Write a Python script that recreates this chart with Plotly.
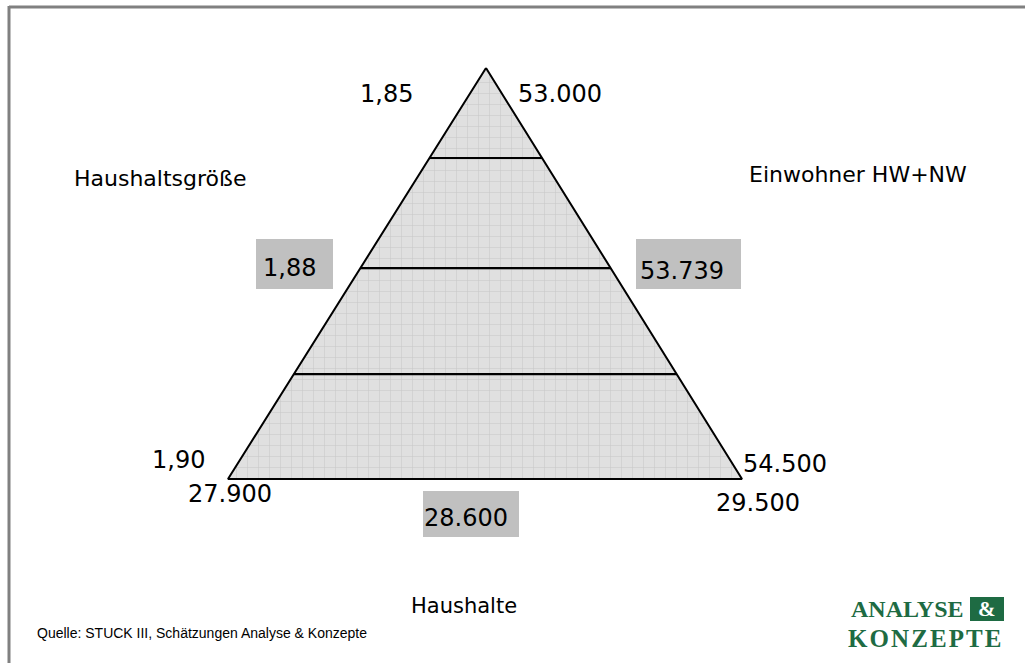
import plotly.graph_objects as go

# --- data ---
left_labels = ["1,85", "1,88", "1,90"]          # Haushaltsgröße
right_labels = ["53.000", "53.739", "54.500"]   # Einwohner HW+NW
bottom_labels = ["27.900", "28.600", "29.500"]  # Haushalte
axis_titles = ["Haushaltsgröße", "Einwohner HW+NW", "Haushalte"]
divider_fracs = [0.219, 0.487, 0.745]           # relative height of divider lines
source = "Quelle: STUCK III, Schätzungen Analyse & Konzepte"
logo_top = "ANALYSE"
logo_amp = "&"
logo_bottom = "KONZEPTE"

# --- geometry (pixel space) ---
W, H = 1025, 663
apex = (486, 68)
base_l = (228, 479)
base_r = (742, 479)

fig = go.Figure()

fig.add_trace(go.Scatter(
    x=[apex[0], base_r[0], base_l[0], apex[0]],
    y=[apex[1], base_r[1], base_l[1], apex[1]],
    mode="lines", fill="toself",
    fillcolor="#e0e0e0",
    fillpattern=dict(shape="+", fgcolor="#b0b0b0", bgcolor="#e0e0e0", size=11, solidity=0.1),
    line=dict(color="black", width=2), hoverinfo="skip", showlegend=False))

hgt = base_l[1] - apex[1]
for f in divider_fracs:
    y = apex[1] + f * hgt
    xl = apex[0] + (base_l[0] - apex[0]) * f
    xr = apex[0] + (base_r[0] - apex[0]) * f
    fig.add_trace(go.Scatter(x=[xl, xr], y=[y, y], mode="lines",
                             line=dict(color="black", width=2.2),
                             hoverinfo="skip", showlegend=False))

FONT = "DejaVu Sans"
GREEN = "#1e6b43"
shapes = [
    dict(type="line", x0=9, x1=W + 5, y0=7, y1=7, line=dict(color="#808080", width=3)),
    dict(type="line", x0=9, x1=9, y0=6, y1=H + 5, line=dict(color="#808080", width=3)),
    dict(type="rect", x0=256, x1=333, y0=239, y1=289, fillcolor="#c0c0c0", line=dict(width=0), layer="below"),
    dict(type="rect", x0=636, x1=741, y0=239, y1=289, fillcolor="#c0c0c0", line=dict(width=0), layer="below"),
    dict(type="rect", x0=423, x1=519, y0=491, y1=537, fillcolor="#c0c0c0", line=dict(width=0), layer="below"),
    dict(type="rect", x0=970, x1=1004, y0=597, y1=621, fillcolor=GREEN, line=dict(width=0)),
]

def ann(x, y, t, size=24, xanchor="center", color="black", family=FONT, bold=False):
    txt = f"<b>{t}</b>" if bold else t
    return dict(x=x, y=y, xref="x", yref="y", text=txt, showarrow=False,
                xanchor=xanchor, yanchor="middle",
                font=dict(size=size, color=color, family=family))

hair = "\u200a"
annotations = [
    ann(386, 94, left_labels[0]),
    ann(516, 94, right_labels[0], xanchor="left"),
    ann(261, 268, left_labels[1], xanchor="left"),
    ann(638, 271, right_labels[1], xanchor="left"),
    ann(207, 460, left_labels[2], xanchor="right"),
    ann(741, 464, right_labels[2], xanchor="left"),
    ann(230, 494, bottom_labels[0]),
    ann(466, 518, bottom_labels[1]),
    ann(758, 503, bottom_labels[2]),
    ann(160, 178, axis_titles[0], size=22),
    ann(858, 174, axis_titles[1], size=22),
    ann(464, 606, axis_titles[2], size=21),
    ann(35, 633, source, size=14, xanchor="left", family="Liberation Sans"),
    ann(966, 609, logo_top, size=24, xanchor="right", color=GREEN, family="Liberation Serif", bold=True),
    ann(987, 609, logo_amp, size=21, color="white", family="Liberation Serif", bold=True),
    ann(925, 638, hair.join(logo_bottom), size=25, color=GREEN, family="Liberation Serif", bold=True),
]

fig.update_layout(
    width=W, height=H, margin=dict(l=0, r=0, t=0, b=0),
    paper_bgcolor="white", plot_bgcolor="white",
    xaxis=dict(range=[0, W], visible=False, fixedrange=True),
    yaxis=dict(range=[H, 0], visible=False, fixedrange=True),
    shapes=shapes, annotations=annotations, showlegend=False,
)

fig.write_html("out.html", config={"displayModeBar": False},
               post_script="document.body.style.margin='0';document.body.style.overflow='hidden';")
